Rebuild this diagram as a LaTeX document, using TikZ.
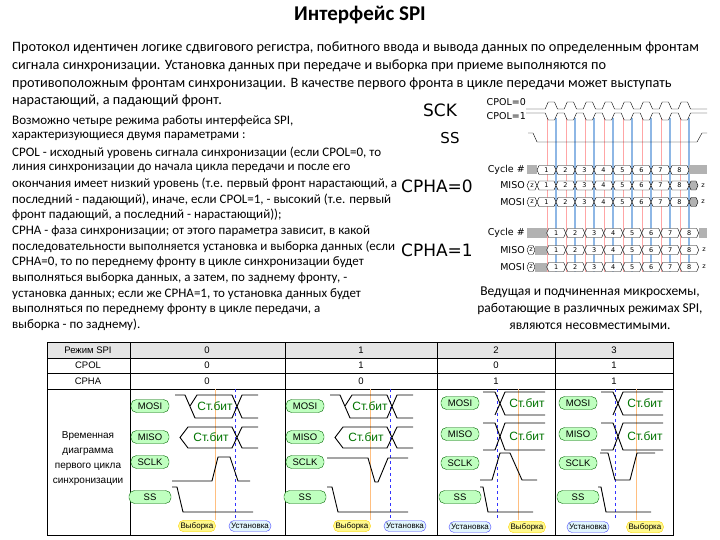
\documentclass[tikz,border=0pt]{standalone}
\usepackage{fontspec}
\setmainfont{Carlito}
\newfontfamily\ar{Liberation Sans}
\newfontfamily\dv{DejaVu Sans}
\newcommand\bcell[5]{%
  \draw[fill=#5] (#1,#3) -- (#1+2,#3-4.5) -- (#2-2,#3-4.5) -- (#2,#3) -- (#2-2,#3+4.5) -- (#1+2,#3+4.5) -- cycle;
  \node[font=\dv\fontsize{6.5}{6.5}\selectfont,inner sep=0] at ({(#1+#2)/2},#3) {#4};}
\tikzset{
  pill/.style={rounded corners=5.5pt,draw=green!40!black,fill=green!25,font=\ar\fontsize{9.5}{9.5}\selectfont,inner sep=1.5pt,minimum width=38pt,minimum height=13pt},
  ypill/.style={rounded corners=5pt,draw=yellow!70!orange,fill=yellow!45,font=\ar\fontsize{8}{8}\selectfont,inner sep=2pt,minimum height=11pt},
  bpill/.style={rounded corners=5pt,draw=blue!70,fill=cyan!12,font=\ar\fontsize{8}{8}\selectfont,inner sep=2pt,minimum height=11pt},
  bit/.style={font=\ar\fontsize{12}{12}\selectfont,text=green!45!black,inner sep=0},
  txt/.style={anchor=west,inner sep=0,font=\fontsize{13}{13}\selectfont},
  ptxt/.style={anchor=west,inner sep=0,font=\fontsize{14.3}{15}\selectfont},
  tab/.style={font=\ar\fontsize{9.5}{10}\selectfont,inner sep=0},
  wave/.style={line width=0.9pt},
  sig/.style={font=\dv\fontsize{9.5}{9.5}\selectfont,inner sep=0,anchor=east}
}
\begin{document}
\begin{tikzpicture}[x=1pt,y=-1pt]
\useasboundingbox (0,0) rectangle (720,540);
\node[font=\fontsize{21}{22}\selectfont\bfseries] (title) at (360,15) {Интерфейс SPI};
\node[ptxt] (p1) at (12,48) {Протокол идентичен логике сдвигового регистра, побитного ввода и вывода данных по определенным фронтам};
\node[ptxt] (p2) at (12,66) {сигнала синхронизации. Установка данных при передаче и выборка при приеме выполняются по};
\node[ptxt] (p3) at (12,84) {противоположным фронтам синхронизации. В качестве первого фронта в цикле передачи может выступать};
\node[ptxt] (p4) at (12,101) {нарастающий, а падающий фронт.};
\foreach \t [count=\i from 0] in {Возможно четыре режима работы интерфейса SPI{,},
 характеризующиеся двумя параметрами :,
 CPOL - исходный уровень сигнала синхронизации (если CPOL=0{,} то,
 линия синхронизации до начала цикла передачи и после его,
 окончания имеет низкий уровень (т.е. первый фронт нарастающий{,} а,
 последний - падающий){,} иначе{,} если CPOL=1{,} - высокий (т.е. первый,
 фронт падающий{,} а последний - нарастающий));,
 CPHA - фаза синхронизации; от этого параметра зависит{,} в какой,
 последовательности выполняется установка и выборка данных (если,
 CPHA=0{,} то по переднему фронту в цикле синхронизации будет,
 выполняться выборка данных{,} а затем{,} по заднему фронту{,} -,
 установка данных; если же CPHA=1{,} то установка данных будет,
 выполняться по переднему фронту в цикле передачи{,} а,
 выборка - по заднему).}
  \node[txt] (l\i) at (12,{121+15.7*\i}) {\t};
\node[font=\fontsize{13.5}{17}\selectfont,align=center,inner sep=0] (note) at (590,308) {Ведущая и подчиненная микросхемы,\\работающие в различных режимах SPI,\\являются несовместимыми.};
% timing diagram
\foreach \k in {0,...,7}{
  \draw[red!35] ({546.7+19*\k},118) -- ++(0,154);
  \draw[cyan!60!blue!45,line width=1.1pt] ({556+19*\k},118) -- ++(0,154);}
\node[font=\dv\fontsize{17}{17}\selectfont] (sck) at (440,110) {SCK};
\node[font=\dv\fontsize{15}{15}\selectfont] (ss) at (450,138) {SS};
\node[sig] (c0) at (526,102) {CPOL=0};
\node[sig] (c1) at (526,116) {CPOL=1};
\draw (526,109) foreach \k in {0,...,7}{ -- ({546.7+19*\k-1.5},109) -- ({546.7+19*\k+1.5},102) -- ({556+19*\k-1.5},102) -- ({556+19*\k+1.5},109)} -- (707,109);
\draw (526,113) foreach \k in {0,...,7}{ -- ({546.7+19*\k-1.5},113) -- ({546.7+19*\k+1.5},120) -- ({556+19*\k-1.5},120) -- ({556+19*\k+1.5},113)} -- (707,113);
\draw (528,133) -- (533,133) -- (537,142) -- (697,142) -- (702,133) -- (707,133);
\node[font=\dv\fontsize{17}{17}\selectfont] (ph0) at (437,186) {CPHA=0};
\node[font=\dv\fontsize{17}{17}\selectfont] (ph1) at (437,250) {CPHA=1};
\node[sig] (cy0) at (525,170) {Cycle \#};
\node[sig] (mi0) at (525,185.5) {MISO};
\node[sig] (mo0) at (525,202) {MOSI};
\node[sig] (cy1) at (525,233) {Cycle \#};
\node[sig] (mi1) at (525,250) {MISO};
\node[sig] (mo1) at (525,267) {MOSI};
% CPHA=0 rows
\fill[gray!60] (527,165.5) rectangle (537,174.5);
\fill[gray!60] (689,165.5) rectangle (707,174.5);
\foreach \y in {185.5,202}{
  \bcell{527}{537}{\y}{z}{white}
  \bcell{689}{698}{\y}{}{gray!60}
  \node[font=\dv\fontsize{6.5}{6.5}\selectfont] at (703,\y) {z};}
\foreach \y in {170,185.5,202}{
\foreach \k in {1,...,8}{
  \pgfmathsetmacro\xa{537+19*(\k-1)}\pgfmathsetmacro\xb{\xa+19}
  \bcell{\xa}{\xb}{\y}{\k}{white}}}
% CPHA=1 rows
\fill[gray!60] (527,228.5) rectangle (546.7,237.5);
\fill[gray!60] (698.7,228.5) rectangle (707,237.5);
\foreach \y in {250,267}{
  \bcell{527}{535}{\y}{z}{white}
  \fill[gray!60] (535,\y-4.5) rectangle (546.7,\y+4.5);
  \node[font=\dv\fontsize{6.5}{6.5}\selectfont] at (704,\y) {z};}
\foreach \y in {233,250,267}{
\foreach \k in {1,...,8}{
  \pgfmathsetmacro\xa{546.7+19*(\k-1)}\pgfmathsetmacro\xb{\xa+19}
  \bcell{\xa}{\xb}{\y}{\k}{white}}}
% table
\fill[gray!20] (47,342) rectangle (673,358);
\draw[line width=0.8pt] (47,342) rectangle (673,535);
\foreach \y in {358,373,389} \draw[line width=0.6pt] (47,\y) -- (673,\y);
\foreach \x in {130,285,437,555} \draw[line width=0.6pt] (\x,342) -- (\x,535);
\node[tab] (h0) at (88,350) {Режим SPI};
\node[tab] (h1) at (88,365.5) {CPOL};
\node[tab] (h2) at (88,381) {CPHA};
\foreach \x/\a/\b/\c in {207/0/0/0,361/1/1/0,496/2/0/1,614/3/1/1}{
  \node[tab] at (\x,350) {\a};
  \node[tab] at (\x,365.5) {\b};
  \node[tab] at (\x,381) {\c};}
\node[tab,align=center,font=\ar\fontsize{10}{15}\selectfont] (vd) at (88,459) {Временная\\диаграмма\\первого цикла\\синхронизации};
% modes 0 and 1
\foreach \s in {0,155}{
\begin{scope}[xshift=\s]
  \draw[orange!50] (215,389) -- (215,520);
  \draw[blue!80,dashed] (235,389) -- (235,520);
  \draw[wave] (175,395)--(185,395)--(195,418)--(232,418)--(242,395)--(258,395);
  \draw[wave] (190,406)--(197,395)--(232,395)--(242,418)--(258,418);
  \node[bit] at (215,406) {Ст.бит};
  \draw[wave] (258,427)--(242,427)--(232,448)--(188,448)--(180,437.5)--(188,427)--(232,427)--(242,448)--(258,448);
  \node[bit] at (211,437.5) {Ст.бит};
  \draw[wave] (172,487)--(177,487)--(183,512)--(253,512);
  \node[pill] at (150,406) {MOSI};
  \node[pill] at (150,437) {MISO};
  \node[pill] at (150,462) {SCLK};
  \node[pill,minimum width=42pt] at (150,497) {SS};
  \node[ypill] at (197,526) {Выборка};
  \node[bpill] at (250,526) {Установка};
\end{scope}}
\draw[wave] (172,481)--(212,481)--(218,457)--(230,457)--(238,481)--(250,481);
\draw[wave] (327,458)--(368,458)--(375,482)--(378,482)--(388,458)--(408,458);
% modes 2 and 3
\foreach \s in {0,118}{
\begin{scope}[xshift=\s]
  \draw[orange!50] (518,389) -- (518,520);
  \draw[blue!80,dashed] (497,389) -- (497,520);
  \draw[wave] (483,392)--(495,392)--(505,415)--(545,415);
  \draw[wave] (495,415)--(505,392)--(545,392);
  \node[bit] at (527,403.5) {Ст.бит};
  \draw[wave] (483,423)--(495,423)--(505,450)--(545,450);
  \draw[wave] (483,450)--(495,450)--(505,423)--(545,423);
  \node[bit] at (527,436.5) {Ст.бит};
  \draw[wave] (480,487)--(483,487)--(488,512)--(533,512);
  \node[pill] at (460,403) {MOSI};
  \node[pill] at (460,434) {MISO};
  \node[pill] at (460,463) {SCLK};
  \node[pill,minimum width=42pt] at (460,497) {SS};
  \node[bpill] at (470,527) {Установка};
  \node[ypill] at (527,527) {Выборка};
\end{scope}}
\draw[wave] (480,480)--(492,480)--(500,453)--(510,453)--(522,480)--(537,480);
\draw[wave] (600,453)--(608,453)--(615,480)--(630,480)--(637,453)--(655,453);
\end{tikzpicture}
\end{document}
